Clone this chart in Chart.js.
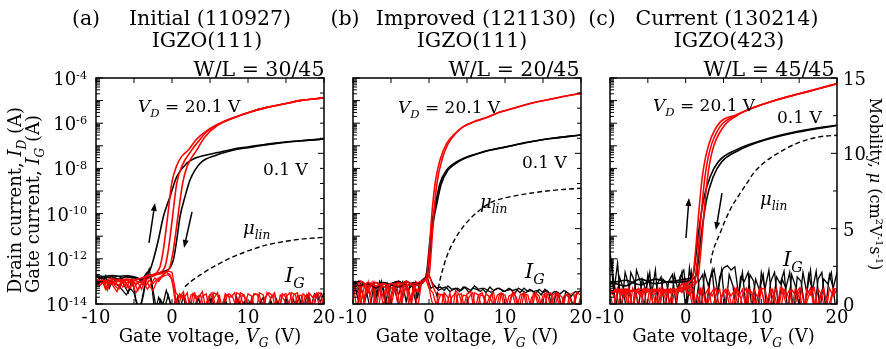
<!DOCTYPE html>
<html>
<head>
<meta charset="utf-8">
<script src="https://cdn.jsdelivr.net/npm/chart.js@4.4.0/dist/chart.umd.min.js"></script>
<style>
  body { margin: 0; background: #fff; }
  #wrap { position: relative; width: 886px; height: 349px; }
  #wrap canvas { position: absolute; left: 0; top: 0; }
</style>
</head>
<body>
<div id="wrap">
  <canvas id="chartA" width="886" height="349"></canvas>
  <canvas id="chartB" width="886" height="349"></canvas>
  <canvas id="chartC" width="886" height="349"></canvas>
</div>
<script>
// currents are stored as log10(I / A), mobility in cm2/Vs, gate voltage in V

// ---- shared grids for the gate-current noise traces
const vgNoise1 = [-10,-9.5,-9,-8.5,-8,-7.5,-7,-6.5,-6,-5.5,-5,-4.5,-4,-3.5,-3,-2.5,-2,-1.5,-1,-0.5,0,0.5,1,1.5,2,2.5,3,3.5,4,4.5,5,5.5,6,6.5,7,7.5,8,8.5,9,9.5,10,10.5,11,11.5,12,12.5,13,13.5,14,14.5,15,15.5,16,16.5,17,17.5,18,18.5,19,19.5,20];
const vgNoise2 = [-9.75,-9.25,-8.75,-8.25,-7.75,-7.25,-6.75,-6.25,-5.75,-5.25,-4.75,-4.25,-3.75,-3.25,-2.75,-2.25,-1.75,-1.25,-0.75,-0.25,0.25,0.75,1.25,1.75,2.25,2.75,3.25,3.75,4.25,4.75,5.25,5.75,6.25,6.75,7.25,7.75,8.25,8.75,9.25,9.75,10.25,10.75,11.25,11.75,12.25,12.75,13.25,13.75,14.25,14.75,15.25,15.75,16.25,16.75,17.25,17.75,18.25,18.75,19.25,19.75];

// ---- (a) Initial (110927)
const aRed1Vg = [-10,-9,-8,-7,-6,-5,-4,-3.5,-3,-2.5,-2,-1.58,-1.14,-0.6,-0.04,0.6,1.2,2.15,3.2,4.5,6,8,10.3,12.5,14.7,16.8,20];
const aRed1Id = [-12.9,-13.05,-12.85,-13.0,-12.9,-12.95,-13.05,-12.8,-12.7,-12.75,-12.6,-12.35,-11.6,-10.2,-8.66,-7.9,-7.5,-7.19,-6.72,-6.35,-6.05,-5.77,-5.5,-5.3,-5.15,-5.0,-4.88];
const aRed2Vg = [-10,-9,-8,-7,-6,-5,-4,-3,-2,-1.5,-0.92,-0.48,0.05,0.62,1.3,2.59,3.6,4.5,6,8,10.3,12.5,14.7,16.8,20];
const aRed2Id = [-13.1,-12.95,-13.1,-12.9,-13.05,-12.95,-12.85,-12.75,-12.65,-12.6,-12.35,-11.6,-10.2,-8.66,-7.9,-7.19,-6.75,-6.4,-6.07,-5.77,-5.5,-5.3,-5.15,-5.0,-4.88];
const aRed3Vg = [-10,-9,-8,-7,-6,-5,-4,-3,-2,-1,-0.26,0.18,0.75,1.4,2.0,3.25,4.3,6,8,10.3,12.5,14.7,16.8,20];
const aRed3Id = [-12.95,-13.1,-13.0,-13.15,-12.95,-13.1,-13.0,-12.85,-12.7,-12.6,-12.35,-11.6,-10.2,-8.66,-7.9,-7.19,-6.62,-6.1,-5.78,-5.5,-5.3,-5.15,-5.0,-4.88];
const aBlk1Vg = [-10,-9,-8,-7,-6,-5,-4.5,-4,-3.5,-2.9,-2.46,-1.8,-1.14,-0.26,0.62,1.93,3,4.56,6,8,10,12,14,16,18,20];
const aBlk1Id = [-12.75,-12.78,-12.74,-12.77,-12.75,-12.8,-12.85,-13.0,-12.7,-12.5,-12.05,-11.17,-10.14,-9.25,-8.37,-7.78,-7.55,-7.41,-7.3,-7.15,-7.05,-6.95,-6.87,-6.8,-6.75,-6.7];
const aBlk2Vg = [-10,-9,-8,-7,-6,-5,-4,-3,-2,-1.1,-0.26,0.18,0.62,1.05,1.71,2.37,3.68,5.88,8,10,12,14,16,18,20];
const aBlk2Id = [-12.8,-12.85,-12.8,-12.9,-12.8,-12.85,-12.9,-12.8,-12.65,-12.57,-12.4,-12.05,-11.17,-10.14,-9.25,-8.51,-7.78,-7.41,-7.2,-7.08,-6.97,-6.88,-6.81,-6.75,-6.7];
const aMobVg = [1.7,2.5,3.68,5.88,8.1,10.3,12.5,14.7,16.9,20];
const aMob = [1.15,1.5,1.92,2.59,3.14,3.58,3.92,4.14,4.3,4.43];
const aIgRed1 = [-13.0,-13.2,-12.95,-13.3,-13.05,-13.15,-12.9,-13.25,-13.1,-13.3,-13.0,-13.4,-13.1,-13.2,-12.95,-13.1,-12.9,-12.8,-12.65,-12.55,-12.6,
  -13.5,-13.7,-13.45,-14.3,-13.6,-13.5,-14.2,-13.65,-13.55,-14.4,-13.5,-13.6,-14.3,-13.55,-13.7,-14.5,-13.5,-13.6,-14.2,-13.55,-13.65,-14.4,-13.5,-13.6,-14.3,-13.7,-13.5,-14.5,-13.6,-13.55,-14.2,-13.6,-13.5,-14.4,-13.65,-13.55,-14.3,-13.6,-13.5,-14.2];
const aIgRed2 = [-13.15,-12.9,-13.35,-13.0,-13.2,-13.45,-13.05,-12.95,-13.3,-13.1,-13.5,-13.2,-13.0,-13.35,-13.1,-12.85,-13.0,-12.75,-12.6,-12.7,
  -13.3,-14.2,-13.6,-13.75,-14.5,-13.55,-13.8,-13.6,-14.3,-13.7,-13.5,-14.1,-13.65,-14.4,-13.6,-13.7,-13.5,-14.3,-13.6,-13.75,-14.6,-13.55,-13.6,-14.2,-13.7,-13.5,-13.65,-14.4,-13.6,-13.8,-14.2,-13.5,-13.6,-14.5,-13.55,-13.7,-14.3,-13.6,-13.5,-14.4];
const aIgRed3 = [-13.25,-12.95,-13.1,-13.4,-12.9,-13.2,-13.35,-13.0,-13.3,-12.95,-13.25,-13.05,-13.35,-12.9,-13.2,-13.4,-13.0,-12.85,-12.75,-12.7,-12.9,
  -14.1,-13.55,-13.8,-13.5,-14.5,-13.6,-13.7,-13.45,-14.3,-13.6,-13.75,-13.5,-14.4,-13.65,-13.55,-13.7,-14.2,-13.5,-13.6,-14.5,-13.7,-13.55,-13.6,-14.3,-13.5,-13.75,-13.6,-14.4,-13.55,-13.7,-13.5,-14.2,-13.65,-13.6,-14.5,-13.5,-13.7,-13.55,-14.3,-13.6];
const aIgBlk1 = [-12.8,-12.85,-12.9,-13.0,-12.95,-13.1,-13.2,-13.4,-13.6,-13.3,-13.5,-14.2,-13.9,-13.0,-12.45,-13.4,-14.3,-13.8,-14.2,-13.6,-14.3,
  -13.8,-14.4,-13.6,-14.5,-13.9,-14.3,-13.7,-14.6,-14.0,-13.75,-14.4,-13.9,-14.5,-13.8,-14.2,-14.6,-13.7,-14.3,-13.9,-14.5,-13.8,-14.4,-14.0,-13.7,-14.5,-13.85,-14.3,-13.9,-14.6,-13.75,-14.2,-13.8,-14.5,-13.9,-14.3,-13.6,-14.4,-13.55,-13.9,-13.5];
const aIgBlk2 = [-12.8,-13.1,-12.75,-13.3,-12.9,-13.0,-12.8,-13.2,-13.5,-12.9,-13.8,-14.3,-13.6,-12.6,-12.9,-14.4,-13.7,-14.1,-13.4,-13.9,
  -14.3,-13.7,-14.5,-13.9,-14.2,-14.6,-13.8,-14.4,-14.0,-14.5,-13.75,-14.3,-14.6,-13.9,-14.4,-14.1,-14.5,-13.8,-14.3,-14.6,-13.9,-14.2,-14.5,-13.85,-14.4,-14.0,-14.6,-13.8,-14.3,-14.5,-13.9,-14.4,-14.1,-13.7,-14.3,-13.6,-14.2,-13.55,-13.8,-13.5];

// ---- (b) Improved (121130)
const bRed1Vg = [-10,-9,-8,-7,-6,-5,-4,-3,-2,-1,-0.6,-0.3,0.05,0.35,0.8,1.45,2.33,3.6,4.5,6,7.6,9,11,13.3,15.5,18,20];
const bRed1Id = [-13.1,-13.25,-13.05,-13.2,-13.1,-13.3,-13.05,-13.2,-13.1,-13.0,-12.95,-12.8,-11.6,-10.14,-8.66,-7.63,-6.89,-6.4,-6.15,-5.92,-5.75,-5.55,-5.35,-5.13,-4.97,-4.8,-4.68];
const bRed2Vg = [-10,-9,-8,-7,-6,-5,-4,-3,-2,-1,-0.4,0,0.3,0.6,1.05,1.7,2.5,3.6,4.5,6,7.6,9,11,13.3,15.5,18,20];
const bRed2Id = [-13.3,-13.0,-13.2,-13.05,-13.25,-13.1,-13.2,-13.0,-13.2,-13.1,-12.9,-12.75,-11.6,-10.14,-8.66,-7.63,-6.92,-6.42,-6.16,-5.93,-5.75,-5.55,-5.35,-5.13,-4.97,-4.8,-4.68];
const bBlk1Vg = [-10,-9,-8,-7,-6,-5,-4,-3,-2,-1,-0.6,-0.3,0.13,0.5,0.79,1.45,2.33,3.2,4.5,6,8,10,13.3,16,20];
const bBlk1Id = [-13.15,-13.0,-13.2,-13.05,-13.25,-13.1,-13.0,-13.2,-13.05,-13.1,-12.95,-12.6,-11.17,-10.2,-9.69,-8.66,-8.07,-7.8,-7.56,-7.38,-7.19,-7.05,-6.82,-6.68,-6.52];
const bBlk2Vg = [-10,-9,-8,-7,-6,-5,-4,-3,-2,-1,-0.5,-0.15,0.28,0.65,0.95,1.6,2.45,3.3,4.5,6,8,10,13.3,16,20];
const bBlk2Id = [-13.05,-13.2,-13.1,-13.3,-13.05,-13.15,-13.25,-13.0,-13.15,-13.0,-12.9,-12.6,-11.17,-10.2,-9.69,-8.7,-8.1,-7.83,-7.58,-7.4,-7.2,-7.06,-6.83,-6.68,-6.52];
const bMobVg = [1.0,1.45,2.33,3.4,4.5,5.6,6.7,8,8.9,11,13.3,15.5,17.6,20];
const bMob = [0.5,1.6,3.14,4.3,5.13,5.75,6.24,6.7,6.9,7.15,7.35,7.5,7.6,7.68];
const bIgRed1 = [-13.1,-14.2,-13.2,-13.9,-13.05,-14.4,-13.3,-13.15,-14.1,-13.2,-13.8,-13.1,-14.3,-13.25,-13.0,-13.9,-13.2,-14.2,-13.1,-12.9,-12.7,
  -13.2,-13.6,-14.3,-13.5,-13.7,-14.5,-13.4,-13.6,-14.2,-13.55,-13.45,-14.4,-13.6,-13.5,-14.1,-13.65,-13.5,-14.5,-13.55,-13.6,-14.2,-13.5,-13.7,-14.4,-13.55,-13.6,-14.3,-13.5,-13.65,-14.5,-13.6,-13.5,-14.2,-13.55,-13.7,-14.4,-13.6,-13.5,-14.3,-13.6];
const bIgRed2 = [-13.3,-13.0,-14.3,-13.15,-13.6,-13.05,-14.5,-13.2,-13.1,-14.0,-13.25,-13.05,-14.4,-13.1,-13.3,-13.9,-13.0,-13.2,-13.0,-12.8,
  -13.7,-14.4,-13.55,-13.6,-14.2,-13.5,-14.6,-13.6,-13.55,-14.3,-13.7,-13.5,-14.5,-13.6,-13.65,-14.2,-13.5,-14.4,-13.6,-13.55,-14.5,-13.7,-13.5,-14.3,-13.6,-13.6,-14.6,-13.5,-13.7,-14.2,-13.55,-14.4,-13.6,-13.5,-14.3,-13.65,-13.55,-14.5,-13.6,-13.5];
const bIgRed3 = [-13.6,-13.1,-14.0,-13.2,-13.5,-13.05,-14.3,-13.25,-13.7,-13.1,-14.1,-13.3,-13.0,-13.8,-13.2,-14.4,-13.1,-13.5,-13.0,-12.85,-13.3,
  -13.5,-14.1,-13.6,-13.55,-14.4,-13.7,-13.5,-14.2,-13.6,-13.65,-14.5,-13.5,-13.6,-14.3,-13.55,-13.7,-14.1,-13.6,-13.5,-14.4,-13.65,-13.55,-14.2,-13.6,-13.5,-14.5,-13.7,-13.55,-14.3,-13.6,-13.5,-14.1,-13.65,-13.55,-14.4,-13.6,-13.7,-14.2,-13.5,-13.6];
const bIgBlk1 = [-13.05,-13.5,-13.1,-14.0,-13.2,-13.1,-13.8,-13.0,-13.3,-14.2,-13.1,-13.2,-13.6,-13.05,-13.9,-13.15,-13.1,-13.7,-13.0,-12.95,-12.75,
  -13.1,-13.3,-13.25,-13.4,-13.2,-13.35,-13.3,-13.45,-13.25,-13.3,-13.4,-13.2,-13.35,-13.3,-13.5,-13.25,-13.4,-13.3,-13.35,-13.45,-13.3,-13.4,-13.35,-13.5,-13.3,-13.45,-13.4,-13.55,-13.35,-13.5,-13.4,-13.6,-13.45,-13.5,-14.2,-13.45,-13.6,-14.1,-13.5,-13.4];
const bIgBlk2 = [-13.2,-13.9,-13.05,-13.4,-14.2,-13.1,-13.6,-13.0,-14.0,-13.25,-13.1,-13.7,-14.3,-13.05,-13.4,-13.15,-13.9,-13.05,-12.9,-12.8,
  -13.3,-13.2,-13.4,-13.3,-13.25,-13.45,-13.35,-13.3,-13.4,-13.25,-13.5,-13.3,-13.35,-13.45,-13.3,-13.4,-13.5,-13.35,-13.3,-13.45,-13.4,-13.35,-13.55,-13.3,-13.4,-13.5,-13.35,-13.45,-13.4,-13.6,-13.35,-13.5,-14.3,-13.45,-13.55,-13.4,-13.5,-13.65,-13.45,-13.5];

// ---- (c) Current (130214)
const cRed1Vg = [-10,-8,-6,-4,-2,0,0.5,0.88,1.32,1.76,2.2,2.85,4.2,6.7,9,12,15,17.5,20];
const cRed1Id = [-13.4,-13.5,-13.35,-13.45,-13.4,-13.2,-13.0,-12.9,-11.6,-9.84,-8.37,-7.19,-6.1,-5.62,-5.3,-4.97,-4.7,-4.48,-4.25];
const cRed2Vg = [-10,-8,-6,-4,-2,0,0.8,1.23,1.67,2.11,2.55,3.2,4.54,6.7,9,12,15,17.5,20];
const cRed2Id = [-13.45,-13.35,-13.5,-13.4,-13.35,-13.3,-13.1,-12.94,-11.6,-9.84,-8.37,-7.19,-6.15,-5.65,-5.3,-4.97,-4.7,-4.48,-4.25];
const cRed3Vg = [-10,-8,-6,-4,-2,0,1.1,1.58,2.02,2.46,2.9,3.55,4.9,6.7,9,12,15,17.5,20];
const cRed3Id = [-13.5,-13.4,-13.45,-13.35,-13.5,-13.35,-13.15,-12.94,-11.6,-9.84,-8.37,-7.19,-6.2,-5.68,-5.31,-4.97,-4.7,-4.48,-4.25];
const cBlk1Vg = [-10,-8,-6,-4,-2,0,0.6,1.03,1.69,2.35,3.24,4.34,6.6,10.26,14.7,20];
const cBlk1Id = [-13.0,-13.2,-12.9,-13.1,-13.0,-12.9,-12.85,-12.65,-10.87,-9.4,-8.37,-7.7,-7.19,-6.74,-6.37,-6.08];
const cBlk2Vg = [-10,-8,-6,-4,-2,0,0.9,1.43,2.09,2.75,3.64,4.74,6.9,10.26,14.7,20];
const cBlk2Id = [-13.1,-12.95,-13.15,-12.9,-13.05,-13.0,-12.9,-12.65,-10.87,-9.4,-8.37,-7.72,-7.22,-6.77,-6.4,-6.1];
const cMobVg = [3.3,3.44,4.54,5.86,7,8.07,9,10.26,12,14.7,17.75,20];
const cMob = [2.7,3.14,4.7,6.24,7.2,8.0,8.7,9.34,9.95,10.66,11.1,11.2];
const cIgRed1 = [-13.3,-13.6,-14.4,-13.35,-13.7,-13.3,-14.3,-13.4,-13.65,-13.3,-14.5,-13.35,-13.6,-14.2,-13.3,-13.7,-13.35,-14.4,-13.3,-13.5,-13.0,
  -13.35,-14.3,-13.6,-13.3,-14.5,-13.4,-13.65,-13.3,-14.2,-13.35,-13.6,-14.4,-13.3,-13.7,-13.35,-14.3,-13.4,-13.6,-14.5,-13.3,-13.35,-14.2,-13.65,-13.3,-14.4,-13.35,-13.6,-14.3,-13.3,-13.7,-14.5,-13.35,-13.6,-13.3,-14.2,-13.4,-13.65,-14.4,-13.3,-13.35];
const cIgRed2 = [-13.6,-13.3,-14.2,-13.7,-13.35,-14.5,-13.6,-13.3,-13.75,-14.3,-13.35,-13.6,-14.4,-13.3,-13.7,-14.2,-13.4,-13.6,-13.3,-12.9,
  -13.6,-13.3,-14.4,-13.7,-13.35,-14.2,-13.6,-13.3,-14.5,-13.65,-13.35,-13.6,-14.3,-13.3,-13.7,-14.4,-13.35,-13.6,-14.2,-13.3,-13.65,-14.5,-13.35,-13.6,-14.3,-13.3,-13.7,-13.35,-14.4,-13.6,-13.3,-14.2,-13.65,-13.35,-14.5,-13.6,-13.3,-14.3,-13.65,-13.35];
const cIgRed3 = [-13.5,-14.3,-13.3,-13.6,-13.35,-14.5,-13.3,-13.65,-14.2,-13.35,-13.3,-13.7,-14.4,-13.3,-13.6,-13.35,-14.3,-13.5,-13.3,-13.1,-13.3,
  -13.6,-13.3,-14.4,-13.35,-13.65,-13.3,-14.2,-13.6,-13.35,-14.5,-13.3,-13.65,-13.35,-14.3,-13.6,-13.3,-14.4,-13.35,-13.7,-13.3,-14.2,-13.6,-13.35,-14.5,-13.3,-13.65,-14.3,-13.35,-13.6,-13.3,-14.4,-13.65,-13.3,-14.2,-13.35,-13.6,-14.5,-13.3,-13.65,-13.35];
const cIgBlk1 = [-11.6,-13.5,-12.2,-14.3,-12.6,-13.2,-14.4,-12.5,-13.0,-14.2,-12.7,-13.6,-12.5,-14.5,-12.9,-13.1,-14.3,-12.7,-13.4,-12.6,-14.2,
  -12.4,-13.8,-12.2,-14.4,-12.6,-13.2,-12.5,-14.3,-12.8,-12.4,-12.3,-12.5,-12.35,-13.6,-12.6,-14.2,-12.7,-13.0,-14.5,-12.6,-13.3,-12.5,-14.3,-12.8,-13.1,-12.55,-14.4,-12.7,-13.2,-14.1,-12.6,-13.5,-12.5,-14.5,-12.9,-12.6,-14.2,-12.7,-13.3,-12.6];
const cIgBlk2 = [-12.0,-14.3,-12.8,-13.3,-14.5,-12.6,-13.0,-14.2,-12.9,-13.4,-12.6,-14.4,-13.1,-12.8,-14.3,-13.0,-12.7,-14.1,-12.8,-12.5,
  -13.9,-12.6,-14.4,-13.0,-12.7,-14.2,-12.9,-12.45,-13.5,-12.5,-14.3,-12.7,-13.2,-14.5,-12.8,-13.0,-12.6,-14.2,-12.9,-13.4,-12.7,-14.4,-13.0,-12.6,-14.1,-12.9,-13.3,-12.6,-14.5,-12.8,-13.0,-14.2,-12.7,-13.4,-12.55,-14.3,-12.9,-13.1,-12.6,-14.0];

// ---- axis ticks and labels
const vgTicks = [-10,-5,0,5,10,15,20];
const vgTickLabels = [-10,0,10,20];
const decadeLabels = [-4,-6,-8,-10,-12,-14];
const mobTickLabels = [0,5,10,15];

const SERIF = '"DejaVu Serif", serif';
const RED = '#ff0000';

const logPts = (xs, ys) => xs.map((x, i) => ({ x: x, y: Math.pow(10, ys[i]) }));
const linPts = (xs, ys) => xs.map((x, i) => ({ x: x, y: ys[i] }));

function curve(xs, ys, color) {
    return { data: logPts(xs, ys), borderColor: color, borderWidth: 1.6, yAxisID: 'y', cubicInterpolationMode: 'monotone' };
}
function noise(xs, ys, color) {
    return { data: logPts(xs, ys), borderColor: color, borderWidth: 1.3, yAxisID: 'y', tension: 0 };
}
function mobility(xs, ys) {
    return { data: linPts(xs, ys), borderColor: '#000', borderWidth: 1.4, borderDash: [5, 3], yAxisID: 'mob', cubicInterpolationMode: 'monotone' };
}

// text with italic / sub / sup pieces
function rich(ctx, segs, x, y, size, align) {
    const parts = segs.map(([t, s]) => {
        let fs = size, dy = 0, it = false;
        if (s === 'i') it = true;
        if (s === 'sub') { fs = size * 0.68; dy = size * 0.28; it = true; }
        if (s === 'sup') { fs = size * 0.62; dy = -size * 0.36; }
        const font = (it ? 'italic ' : '') + fs.toFixed(1) + 'px ' + SERIF;
        ctx.font = font;
        return { t, font, dy, w: ctx.measureText(t).width };
    });
    const total = parts.reduce((s, p) => s + p.w, 0);
    let cx = align === 'center' ? x - total / 2 : align === 'right' ? x - total : x;
    ctx.textAlign = 'left';
    ctx.textBaseline = 'alphabetic';
    parts.forEach(p => {
        ctx.font = p.font;
        ctx.fillText(p.t, cx, y + p.dy);
        cx += p.w;
    });
}

function arrow(ctx, x1, y1, x2, y2) {
    const ang = Math.atan2(y2 - y1, x2 - x1);
    ctx.beginPath();
    ctx.moveTo(x1, y1);
    ctx.lineTo(x2 - 6 * Math.cos(ang), y2 - 6 * Math.sin(ang));
    ctx.lineWidth = 1.5;
    ctx.stroke();
    ctx.beginPath();
    ctx.moveTo(x2, y2);
    ctx.lineTo(x2 - 8 * Math.cos(ang) + 3 * Math.sin(ang), y2 - 8 * Math.sin(ang) - 3 * Math.cos(ang));
    ctx.lineTo(x2 - 8 * Math.cos(ang) - 3 * Math.sin(ang), y2 - 8 * Math.sin(ang) + 3 * Math.cos(ang));
    ctx.closePath();
    ctx.fill();
}

function panelPlugin(p) {
    return {
        id: 'panel_' + p.canvas,
        afterDatasetsDraw(chart) {
            const ctx = chart.ctx;
            const a = chart.chartArea;
            const sx = chart.scales.x, sy = chart.scales.y, sm = chart.scales.mob;
            const px = v => sx.getPixelForValue(v);
            const py = e => sy.getPixelForValue(Math.pow(10, e));
            ctx.save();
            ctx.strokeStyle = '#000';
            ctx.fillStyle = '#000';

            // ticks, all pointing inward
            ctx.lineWidth = 1;
            ctx.beginPath();
            vgTicks.forEach(v => {
                ctx.moveTo(px(v), a.top); ctx.lineTo(px(v), a.top + 5);
                ctx.moveTo(px(v), a.bottom); ctx.lineTo(px(v), a.bottom - 5);
            });
            for (let d = -14; d <= -4; d++) {
                for (let k = 1; k <= 9; k++) {
                    if (d === -4 && k > 1) break;
                    const yy = sy.getPixelForValue(k * Math.pow(10, d));
                    ctx.moveTo(a.left, yy);
                    ctx.lineTo(a.left + (k === 1 ? 7 : 4), yy);
                }
            }
            for (let m = 0; m <= 15; m += p.mobStep) {
                const yy = sm.getPixelForValue(m);
                ctx.moveTo(a.right, yy);
                ctx.lineTo(a.right - (m % 5 === 0 ? 6 : 4), yy);
            }
            ctx.stroke();

            // frame
            ctx.lineWidth = 1.5;
            ctx.strokeRect(a.left, a.top, a.right - a.left, a.bottom - a.top);

            // tick labels
            ctx.font = '18px ' + SERIF;
            ctx.textAlign = 'center';
            ctx.textBaseline = 'alphabetic';
            vgTickLabels.forEach(v => ctx.fillText(String(v), px(v), a.bottom + 19));
            if (p.decadeLabels) {
                decadeLabels.forEach(e => rich(ctx, [['10', 'n'], [String(e), 'sup']], a.left - 9, py(e) + 7, 18, 'right'));
            }
            if (p.mobLabels) {
                mobTickLabels.forEach(m => rich(ctx, [[String(m), 'n']], a.right + 6, sm.getPixelForValue(m) + 7, 18, 'left'));
            }

            // axis titles
            rich(ctx, [['Gate voltage, ', 'n'], ['V', 'i'], ['G', 'sub'], [' (V)', 'n']], (a.left + a.right) / 2, 342, 18, 'center');
            if (p.decadeLabels) {
                ctx.save();
                ctx.translate(21, 200);
                ctx.rotate(-Math.PI / 2);
                rich(ctx, [['Drain current, ', 'n'], ['I', 'i'], ['D', 'sub'], [' (A)', 'n']], 0, 0, 18, 'center');
                ctx.restore();
                ctx.save();
                ctx.translate(39, 204);
                ctx.rotate(-Math.PI / 2);
                rich(ctx, [['Gate current, ', 'n'], ['I', 'i'], ['G', 'sub'], [' (A)', 'n']], 0, 0, 18, 'center');
                ctx.restore();
            }
            if (p.mobLabels) {
                ctx.save();
                ctx.translate(870, 184);
                ctx.rotate(Math.PI / 2);
                rich(ctx, [['Mobility, ', 'n'], ['\u03bc', 'i'], [' (cm', 'n'], ['2', 'sup'], ['V', 'n'], ['-1', 'sup'], ['s', 'n'], ['-1', 'sup'], [')', 'n']], 0, 0, 16, 'center');
                ctx.restore();
            }

            // panel titles
            rich(ctx, [[p.letter, 'n']], p.letterX, 25, 20.5, 'center');
            rich(ctx, [[p.name, 'n']], p.nameX, 25, 20.5, 'center');
            rich(ctx, [[p.film, 'n']], p.filmX, 47, 20.5, 'center');
            rich(ctx, [[p.wl, 'n']], p.wlX, 76, 20.5, 'center');

            // in-plot notes
            const n = p.notes;
            rich(ctx, [['V', 'i'], ['D', 'sub'], [' = 20.1 V', 'n']], px(n.vd[0]), py(n.vd[1]), 17, 'left');
            rich(ctx, [['0.1 V', 'n']], px(n.low[0]), py(n.low[1]), 17, 'left');
            rich(ctx, [['\u03bc', 'i'], ['lin', 'sub']], px(n.mu[0]), py(n.mu[1]), 18, 'left');
            rich(ctx, [['I', 'i'], ['G', 'sub']], px(n.ig[0]), py(n.ig[1]), 21, 'left');
            (p.arrows || []).forEach(r => arrow(ctx, px(r[0]), py(r[1]), px(r[2]), py(r[3])));
            ctx.restore();
        }
    };
}

function makePanel(p, datasets) {
    return new Chart(document.getElementById(p.canvas), {
        type: 'line',
        data: { datasets: datasets },
        options: {
            responsive: false,
            animation: false,
            layout: { padding: p.pad },
            elements: { point: { radius: 0 }, line: { borderJoinStyle: 'miter' } },
            plugins: { legend: { display: false }, tooltip: { enabled: false } },
            scales: {
                x: { type: 'linear', min: -10, max: 20, display: false },
                y: { type: 'logarithmic', min: 1e-14, max: 1e-4, display: false },
                mob: { type: 'linear', min: 0, max: 15, display: false }
            }
        },
        plugins: [panelPlugin(p)]
    });
}

makePanel({
    canvas: 'chartA', pad: { left: 96, top: 78, right: 562, bottom: 45 },
    letter: '(a)', letterX: 86, name: 'Initial (110927)', nameX: 210, film: 'IGZO(111)', filmX: 207, wl: 'W/L = 30/45', wlX: 259,
    decadeLabels: true, mobLabels: false, mobStep: 1,
    notes: { vd: [-4.47, -5.5], low: [11.97, -8.29], mu: [9.34, -10.9], ig: [14.87, -13.03] },
    arrows: [[-3.03, -11.3, -2.24, -9.53], [2.63, -9.93, 1.58, -11.52]]
}, [
    curve(aRed1Vg, aRed1Id, RED), curve(aRed2Vg, aRed2Id, RED), curve(aRed3Vg, aRed3Id, RED),
    curve(aBlk1Vg, aBlk1Id, '#000'), curve(aBlk2Vg, aBlk2Id, '#000'),
    mobility(aMobVg, aMob),
    noise(vgNoise1, aIgRed1, RED), noise(vgNoise2, aIgRed2, RED), noise(vgNoise1, aIgRed3, RED),
    noise(vgNoise1, aIgBlk1, '#000'), noise(vgNoise2, aIgBlk2, '#000')
]);

makePanel({
    canvas: 'chartB', pad: { left: 353, top: 78, right: 305, bottom: 45 },
    letter: '(b)', letterX: 345, name: 'Improved (121130)', nameX: 476, film: 'IGZO(111)', filmX: 472, wl: 'W/L = 20/45', wlX: 514,
    decadeLabels: false, mobLabels: false, mobStep: 1,
    notes: { vd: [-4.08, -5.55], low: [12.24, -7.98], mu: [6.71, -9.75], ig: [12.63, -12.85] },
    arrows: []
}, [
    curve(bRed1Vg, bRed1Id, RED), curve(bRed2Vg, bRed2Id, RED),
    curve(bBlk1Vg, bBlk1Id, '#000'), curve(bBlk2Vg, bBlk2Id, '#000'),
    mobility(bMobVg, bMob),
    noise(vgNoise1, bIgRed1, RED), noise(vgNoise2, bIgRed2, RED), noise(vgNoise1, bIgRed3, RED),
    noise(vgNoise1, bIgBlk1, '#000'), noise(vgNoise2, bIgBlk2, '#000')
]);

makePanel({
    canvas: 'chartC', pad: { left: 610, top: 78, right: 49, bottom: 45 },
    letter: '(c)', letterX: 602, name: 'Current (130214)', nameX: 727, film: 'IGZO(423)', filmX: 729, wl: 'W/L = 45/45', wlX: 769,
    decadeLabels: false, mobLabels: true, mobStep: 2.5,
    notes: { vd: [-4.32, -5.46], low: [12.07, -5.99], mu: [9.82, -9.62], ig: [12.86, -12.32] },
    arrows: [[0.04, -11.08, 0.44, -9.31], [4.8, -9.09, 4.0, -10.73]]
}, [
    curve(cRed1Vg, cRed1Id, RED), curve(cRed2Vg, cRed2Id, RED), curve(cRed3Vg, cRed3Id, RED),
    curve(cBlk1Vg, cBlk1Id, '#000'), curve(cBlk2Vg, cBlk2Id, '#000'),
    mobility(cMobVg, cMob),
    noise(vgNoise1, cIgRed1, RED), noise(vgNoise2, cIgRed2, RED), noise(vgNoise1, cIgRed3, RED),
    noise(vgNoise1, cIgBlk1, '#000'), noise(vgNoise2, cIgBlk2, '#000')
]);
</script>
</body>
</html>
